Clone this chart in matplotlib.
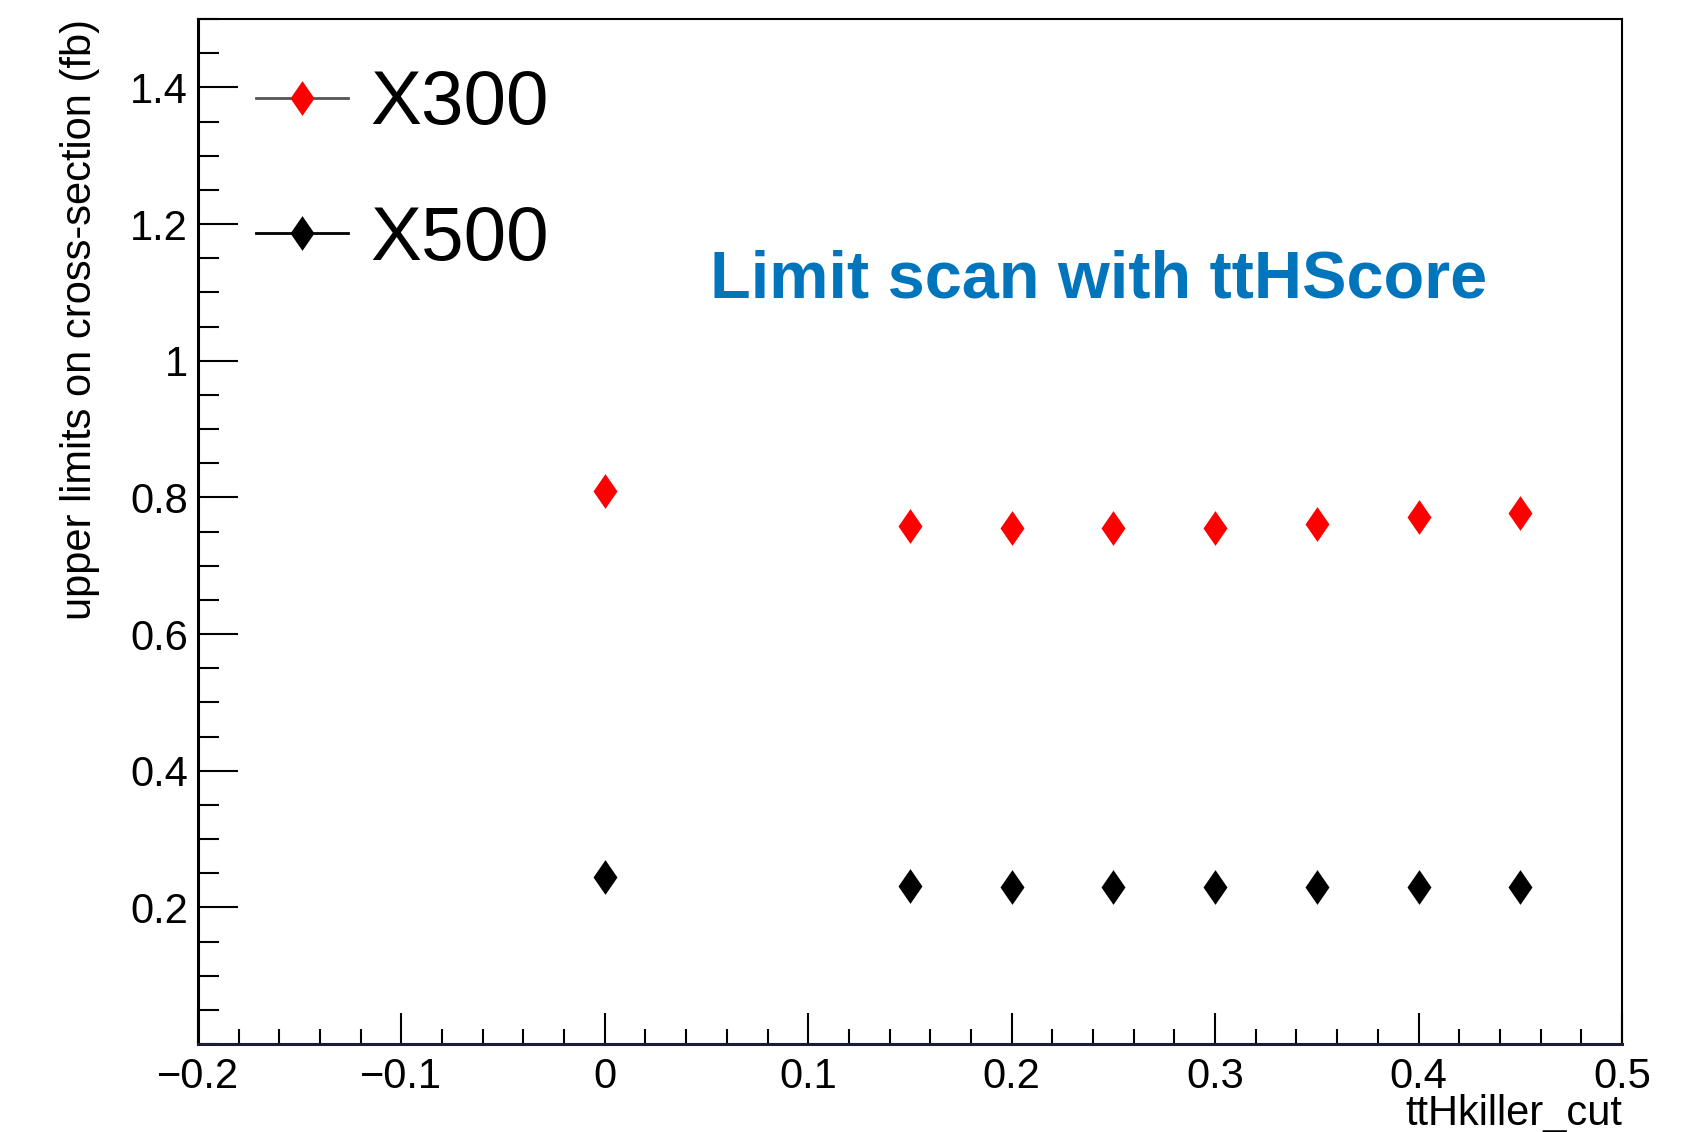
import matplotlib.pyplot as plt
from matplotlib.lines import Line2D
from matplotlib.ticker import MultipleLocator, FixedLocator, FuncFormatter

plt.rcParams['font.family'] = ['Liberation Sans', 'DejaVu Sans']

# values
cut_values = [0.0, 0.15, 0.2, 0.25, 0.3, 0.35, 0.4, 0.45]
limits_x300 = [0.810, 0.758, 0.755, 0.755, 0.755, 0.761, 0.771, 0.777]
limits_x500 = [0.245, 0.231, 0.230, 0.230, 0.230, 0.230, 0.230, 0.230]
series_names = ['X300', 'X500']
series_colors = ['#ff0000', '#000000']
legend_line_colors = ['#555555', '#000000']

x_major = [-0.2, -0.1, 0.0, 0.1, 0.2, 0.3, 0.4, 0.5]
y_major = [0.2, 0.4, 0.6, 0.8, 1.0, 1.2, 1.4]

# thin diamond, a bit wider than matplotlib's 'd'
diamond = [(0, 1), (0.69, 0), (0, -1), (-0.69, 0), (0, 1)]
msize = 25

fig = plt.figure(figsize=(16.89, 11.32), dpi=100)
ax = fig.add_axes([0.1172, 0.0777, 0.8431, 0.9055])

for ys, col in zip([limits_x300, limits_x500], series_colors):
    ax.plot(cut_values, ys, linestyle='none', marker=diamond, markersize=msize,
            color=col, markeredgewidth=0)

ax.set_xlim(-0.2, 0.5)
ax.set_ylim(0.0, 1.5)

# ROOT-like axes: ticks inside, only on left / bottom
ax.xaxis.set_major_locator(FixedLocator(x_major))
ax.xaxis.set_minor_locator(MultipleLocator(0.02))
ax.yaxis.set_major_locator(FixedLocator(y_major))
ax.yaxis.set_minor_locator(MultipleLocator(0.05))
fmt = FuncFormatter(lambda v, p: ('%g' % round(v, 3)).replace('-', '\u2212'))
ax.xaxis.set_major_formatter(fmt)
ax.yaxis.set_major_formatter(fmt)

ax.tick_params(axis='both', which='both', direction='in', top=False, right=False,
               labelsize=30, colors='black')
ax.tick_params(axis='y', which='major', length=29, width=1.5, pad=7)
ax.tick_params(axis='y', which='minor', length=15, width=1.5)
ax.tick_params(axis='x', which='major', length=22, width=1.5, pad=9)
ax.tick_params(axis='x', which='minor', length=11, width=1.5)

for side in ['top', 'right']:
    ax.spines[side].set_linewidth(1.5)
ax.spines['left'].set_linewidth(2.2)
ax.spines['bottom'].set_linewidth(2.2)
ax.spines['bottom'].set_color('#1c1c3a')

ax.set_xlabel('ttHkiller_cut', fontsize=30, loc='right', va='baseline')
ax.xaxis.set_label_coords(1.0, -0.079)
ax.set_ylabel('upper limits on cross-section (fb)', fontsize=30, loc='top')
ax.yaxis.set_label_coords(-0.069, 1.0)

ax.text(0.3596, 0.7288, 'Limit scan with ttHScore', transform=ax.transAxes,
        fontsize=48, fontweight='bold', color='#0075bc', ha='left', va='baseline')

handles = [Line2D([], [], color=lc, linewidth=2, marker=diamond, markersize=msize,
                  markerfacecolor=mc, markeredgewidth=0)
           for lc, mc in zip(legend_line_colors, series_colors)]
ax.legend(handles, series_names, loc='upper left', bbox_to_anchor=(0.0407, 0.951),
          frameon=False, fontsize=55, handlelength=1.2, handletextpad=0.3,
          labelspacing=0.85, borderpad=0, borderaxespad=0)

fig.savefig('out.png', dpi=100)
